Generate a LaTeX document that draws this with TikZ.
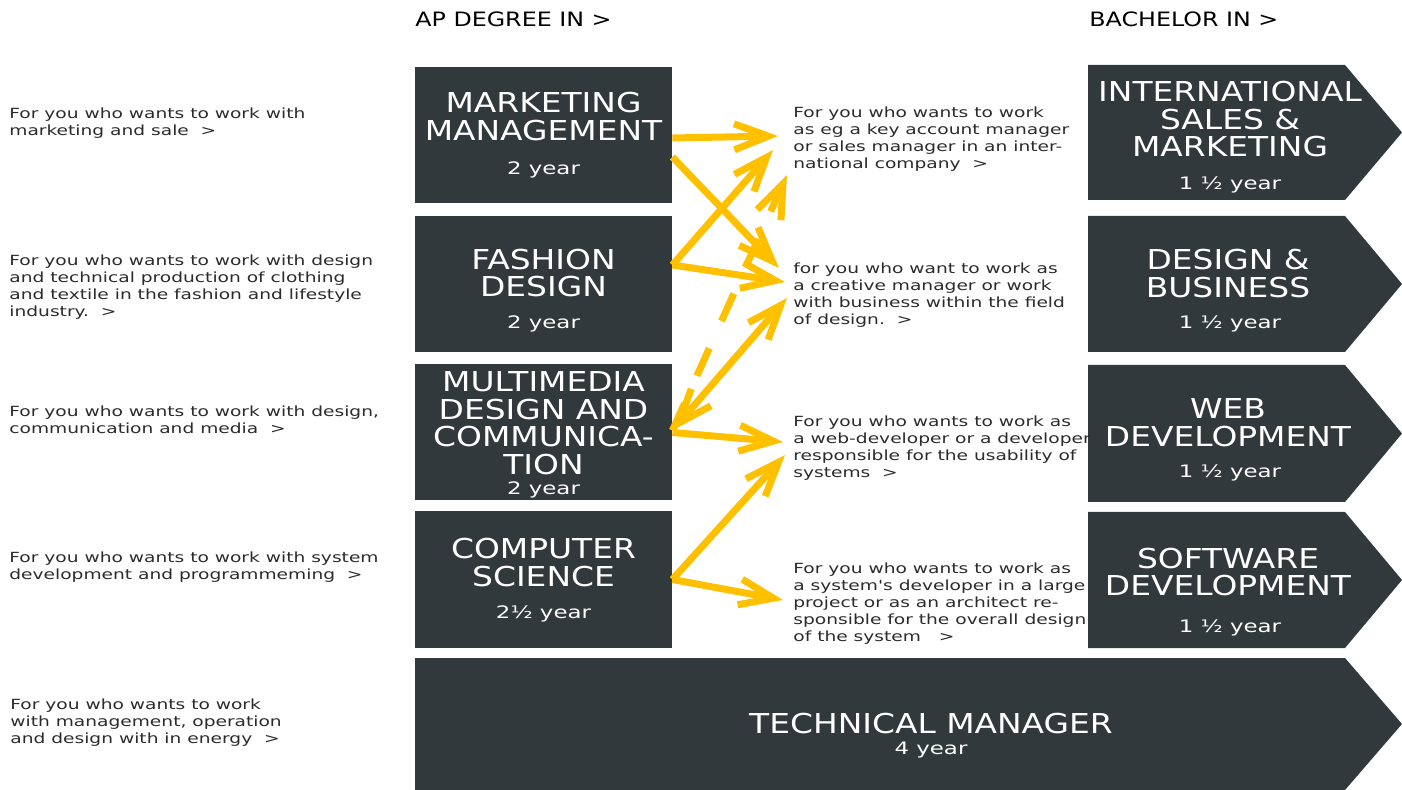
\documentclass[tikz,border=0pt]{standalone}
\usepackage{fontspec}
\newfontfamily\capsfont[FakeStretch=1.2]{DejaVu Sans}
\newfontfamily\txtfont[FakeStretch=1.33]{DejaVu Sans}
\usetikzlibrary{arrows.meta,calc}
\definecolor{boxgray}{HTML}{32393C}
\definecolor{arrowyellow}{HTML}{FFC000}
\definecolor{txtgray}{HTML}{2B2B2B}
\tikzset{
apbox/.style={
  rectangle,fill=boxgray,
  minimum width=128.5pt,minimum height=68pt,
  inner sep=0pt
  },
title/.style={font=\capsfont\fontsize{13.7}{13.75}\selectfont,text=white,align=center,inner sep=0pt},
years/.style={font=\txtfont\fontsize{8.6}{10}\selectfont,text=white,inner sep=0pt},
texto/.style={font=\txtfont\fontsize{7}{8.5}\selectfont,text=txtgray,align=left,anchor=north west,inner sep=0pt},
head/.style={font=\capsfont\fontsize{9.9}{11}\selectfont,text=black,anchor=west,inner sep=0pt},
route/.style={draw=arrowyellow,line width=3.5pt,-{Straight Barb[length=17pt,width=13pt]}},
%dashroute/.style={route,dash pattern=on 15pt off 15pt}
}

\begin{document}
\begin{tikzpicture}[x=0.5pt,y=-0.5pt]
    \useasboundingbox (0,0) rectangle (1402,790);

    % headers
    \node [head] (aphead) at (415,19) {AP DEGREE IN >};
    \node [head] (bahead) at (1089,19) {BACHELOR IN >};

    % left column
    \node [texto] (l1) at (9,107) {For you who wants to work with\\marketing and sale~~>};
    \node [texto] (l2) at (9,254) {For you who wants to work with design\\and technical production of clothing\\and textile in the fashion and lifestyle\\industry.~~>};
    \node [texto] (l3) at (9,405) {For you who wants to work with design,\\communication and media~~>};
    \node [texto] (l4) at (9,551) {For you who wants to work with system\\development and programmeming~~>};
    \node [texto] (l5) at (10,698) {For you who wants to work\\with management, operation\\and design with in energy~~>};

    % AP degrees
    \node [apbox] (mm) at (543.5,135) {};
    \node [apbox] (fd) at (543.5,284) {};
    \node [apbox] (mdc) at (543.5,432.5) {};
    \node [apbox] (cs) at (543.5,579.5) {};
    \node [title] at (543.5,116.5) {MARKETING\\MANAGEMENT};
    \node [years] at (543.5,170) {2 year};
    \node [title] at (543.5,273) {FASHION\\DESIGN};
    \node [years] at (543.5,324) {2 year};
    \node [title] at (543.5,423) {MULTIMEDIA\\DESIGN AND\\COMMUNICA-\\TION};
    \node [years] at (543.5,490) {2 year};
    \node [title] at (543.5,562.5) {COMPUTER\\SCIENCE};
    \node [years] at (543.5,614) {2½ year};

    % bachelors
    \foreach \t/\b in {65/200, 216/352, 365/502, 512/648}
    {
        \fill [boxgray] (1088,\t) -- (1345,\t) -- (1402,{(\t+\b)/2}) -- (1345,\b) -- (1088,\b) -- cycle;
    }
    \node [title] at (1230,119.5) {INTERNATIONAL\\SALES \&\\MARKETING};
    \node [years] at (1230,185) {1 ½ year};
    \node [title] at (1228,273.5) {DESIGN \&\\BUSINESS};
    \node [years] at (1230,324) {1 ½ year};
    \node [title] at (1228,422.5) {WEB\\DEVELOPMENT};
    \node [years] at (1230,473) {1 ½ year};
    \node [title] at (1228,572) {SOFTWARE\\DEVELOPMENT};
    \node [years] at (1230,628) {1 ½ year};

    % technical manager
    \fill [boxgray] (415,658) -- (1345,658) -- (1402,724) -- (1345,790) -- (415,790) -- cycle;
    \node [title] (tm) at (931,724) {TECHNICAL MANAGER};
    \node [years] at (931,750) {4 year};

    % middle column
    \node [texto] (m1) at (793,106) {For you who wants to work\\as eg a key account manager\\or sales manager in an inter-\\national company~~>};
    \node [texto] (m2) at (793,262) {for you who want to work as\\a creative manager or work\\with business within the field\\of design.~~>};
    \node [texto] (m3) at (793,415) {For you who wants to work as\\a web-developer or a developer\\responsible for the usability of\\systems~~>};
    \node [texto] (m4) at (793,562) {For you who wants to work as\\a system's developer in a large\\project or as an architect re-\\sponsible for the overall design\\of the system~~~>};

    % arrows
    \draw [route] ($(mm.east)+(0,3)$) -- ($(m1.north west)+(-15,30)$);
    \draw [route] ($(mm.east)+(0,22)$) -- ($(m2.north west)+(-14,6)$);
    \draw [route] ($(fd.east)+(0,-19)$) -- ($(m1.north west)+(-20,44)$);
    \draw [route] ($(fd.east)+(0,-19)$) -- ($(m2.north west)+(-8,20)$);
    \draw [route,dash pattern=on 15pt off 15pt] ($(mdc.east)+(0,-2)$) -- ($(m1.north west)+(-6,69)$);
    \draw [route,{Straight Barb[length=17pt,width=13pt]}-{Straight Barb[length=17pt,width=13pt]}] ($(mdc.east)+(0,-2)$) -- ($(m2.north west)+(-6,36)$);
    \draw [route] ($(mdc.east)+(0,0)$) -- ($(m3.north west)+(-10,27)$);
    \draw [route] ($(cs.east)+(0,0)$) -- ($(m3.north west)+(-8,40)$);
    \draw [route] ($(cs.east)+(0,0)$) -- ($(m4.north west)+(-10,38)$);

\end{tikzpicture}
\end{document}
